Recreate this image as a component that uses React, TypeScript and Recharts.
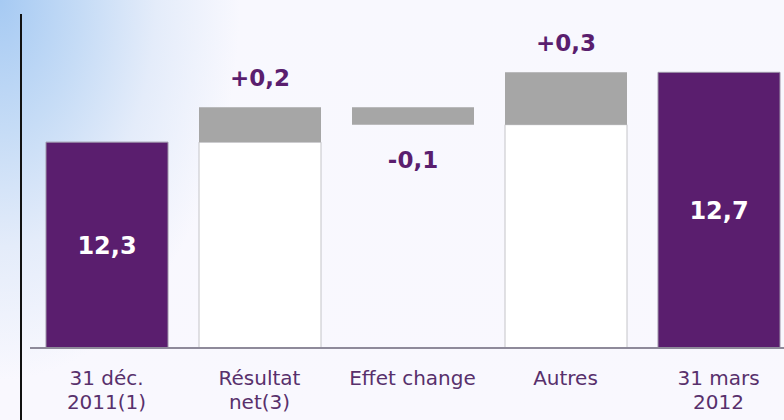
import React from 'react';
import { BarChart, Bar, XAxis, YAxis, Cell, LabelList } from 'recharts';

// ---- data ----
const categories: string[] = ['31 déc.\n2011(1)', 'Résultat\nnet(3)', 'Effet change', 'Autres', '31 mars\n2012'];
const totals: (number | null)[] = [12.3, null, null, null, 12.7];
const deltas: (number | null)[] = [null, 0.2, -0.1, 0.3, null];

// ---- layout / style ----
const W = 800;
const H = 420;
const TOP = 20;
const XAXIS_H = 72;
const PLOT_BOTTOM = H - XAXIS_H;
const Y_DOMAIN: [number, number] = [11.12, 13.0];
const PURPLE = '#5a1e6e';
const GREY = '#a6a6a6';
const LABEL_PURPLE = '#58306c';
const FONT = '"DejaVu Sans", Verdana, sans-serif';

const fmt = (v: number) => Math.abs(v).toFixed(1).replace('.', ',');

type Row = { name: string; base: number | null; gap: number | null; total: number | null; showBase: boolean };

let running = 0;
const data: Row[] = categories.map((name, i) => {
  const t = totals[i];
  if (t != null) {
    running = t;
    return { name, base: null, gap: null, total: t, showBase: false };
  }
  const d = deltas[i] as number;
  const start = running;
  const end = Math.round((running + d) * 100) / 100;
  running = end;
  return { name, base: Math.min(start, end), gap: Math.abs(d), total: null, showBase: d > 0 };
});

const Tick = (props: any) => {
  const { x, y, payload } = props;
  const lines = String(payload.value).split('\n');
  return (
    <text textAnchor="middle" fill={LABEL_PURPLE} fontSize={20} fontFamily={FONT}>
      {lines.map((l, i) => (
        <tspan key={i} x={x} y={y + 37 + i * 24}>
          {l}
        </tspan>
      ))}
    </text>
  );
};

const DeltaLabel = (props: any) => {
  const { x, y, width, height, value } = props;
  const idx = categories.indexOf(String(value));
  const d = idx >= 0 ? deltas[idx] : null;
  if (d == null) return null;
  const cx = x + width / 2;
  const ty = d > 0 ? y - 21 : y + height + 43;
  return (
    <text x={cx} y={ty} textAnchor="middle" fill={PURPLE} fontSize={23} fontWeight="bold" fontFamily={FONT}>
      {(d > 0 ? '+' : '-') + fmt(d)}
    </text>
  );
};

const TotalLabel = (props: any) => {
  const { x, y, width, value } = props;
  const idx = categories.indexOf(String(value));
  const t = idx >= 0 ? totals[idx] : null;
  if (t == null) return null;
  const cy = (y + PLOT_BOTTOM) / 2;
  return (
    <text x={x + width / 2} y={cy + 9} textAnchor="middle" fill="#ffffff" fontSize={24} fontWeight="bold" fontFamily={FONT}>
      {fmt(t)}
    </text>
  );
};

export default function App() {
  return (
    <div
      style={{
        position: 'absolute',
        left: 0,
        top: 0,
        width: 784,
        height: 420,
        overflow: 'hidden',
        background:
          'radial-gradient(ellipse 240px 380px at 0px 0px, #a6caf3 0%, #c6dcf6 35%, #e4ecfa 65%, rgba(248,248,254,0) 100%), linear-gradient(#f8f8fe, #f9f8fe)',
      }}
    >
      <div style={{ position: 'absolute', left: 20, top: 14, width: 2, height: 406, background: '#111111' }} />
      <div style={{ position: 'absolute', left: 0, top: 0 }}>
        <BarChart width={W} height={H} data={data} margin={{ top: TOP, right: 5, left: 30, bottom: 0 }}>
          <XAxis
            dataKey="name"
            axisLine={{ stroke: '#8e8a9a', strokeWidth: 2 }}
            tickLine={false}
            tickSize={0}
            tickMargin={0}
            height={XAXIS_H}
            interval={0}
            tick={<Tick />}
          />
          <YAxis hide type="number" domain={Y_DOMAIN} allowDataOverflow />
          <Bar dataKey="base" stackId="s" barSize={122} isAnimationActive={false}>
            {data.map((r, i) => (
              <Cell key={i} fill={r.showBase ? '#ffffff' : 'transparent'} stroke={r.showBase ? '#c4c4c8' : 'none'} />
            ))}
          </Bar>
          <Bar dataKey="gap" stackId="s" barSize={122} fill={GREY} isAnimationActive={false}>
            <LabelList dataKey="name" content={<DeltaLabel />} />
          </Bar>
          <Bar dataKey="total" stackId="s" barSize={122} fill={PURPLE} stroke="#9d94a8" isAnimationActive={false}>
            <LabelList dataKey="name" content={<TotalLabel />} />
          </Bar>
        </BarChart>
      </div>
    </div>
  );
}
